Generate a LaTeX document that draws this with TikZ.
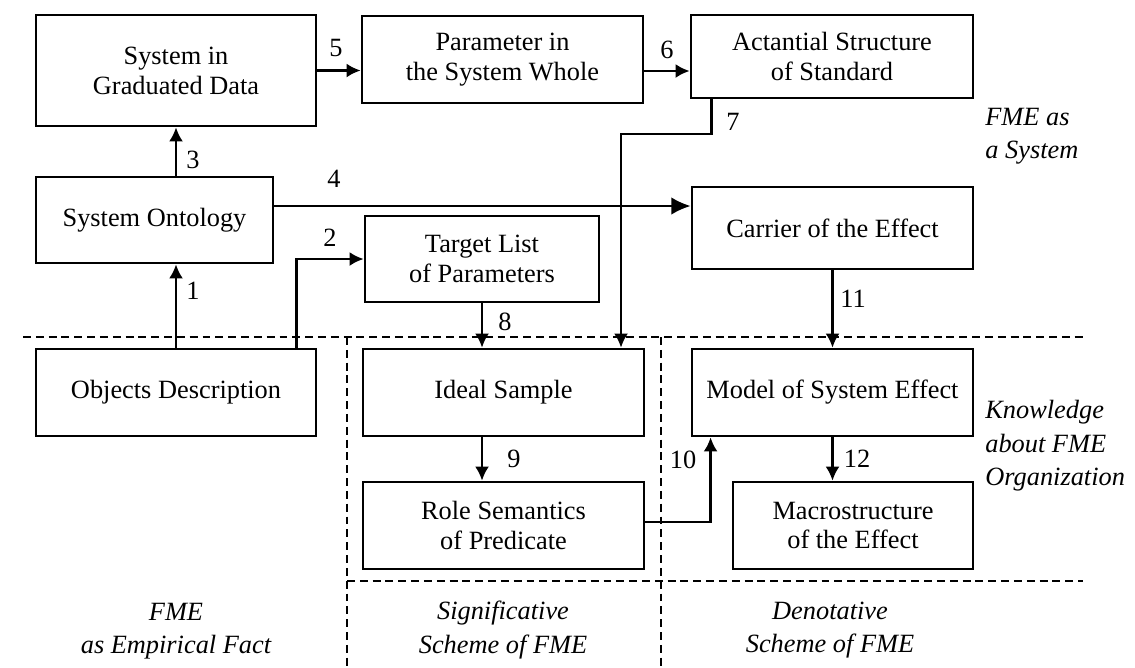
\documentclass[tikz,border=0pt]{standalone}
\usepackage{fontspec}
\setmainfont{Liberation Serif}
\usetikzlibrary{arrows.meta}
\begin{document}
\begin{tikzpicture}[x=0.02cm, y=-0.02cm,
  box/.style={draw, line width=1.6pt, align=center, inner sep=0pt, font=\fontsize{15}{17}\selectfont},
  flow/.style={line width=1.3pt, -{Latex[length=8pt,width=8pt]}},
  zone/.style={line width=0.8pt, dash pattern=on 4.5pt off 2.8pt},
  num/.style={inner sep=0pt, font=\fontsize{15}{17}\selectfont},
  note/.style={inner sep=0pt, align=left, font=\fontsize{15}{19}\selectfont\itshape}]
\useasboundingbox (0,0) rectangle (1135,667);
\foreach \nm/\cx/\cy/\w/\h/\txt in {
  sysdata/176/70.5/280/111/{System in\\Graduated Data},
  param/502.5/59.5/281/87/{Parameter in\\the System Whole},
  actant/832/56.5/282/83/{Actantial Structure\\of Standard},
  ontology/154.5/220/237/86/{System Ontology},
  target/482/259/234/86/{Target List\\of Parameters},
  carrier/832.5/228/281/82/{Carrier of the Effect},
  objects/176/392.5/280/87/{Objects Description},
  ideal/503.5/392.5/281/87/{Ideal Sample},
  model/832.5/392.5/281/87/{Model of System Effect},
  role/503.5/525.5/281/87/{Role Semantics\\of Predicate},
  macro/853/525.5/240/87/{Macrostructure\\of the Effect}}
  \node[box, minimum width=\w*0.02cm, minimum height=\h*0.02cm] (\nm) at (\cx,\cy) {\txt};
\coordinate (o4) at ([yshift=0.28cm]ontology.east);
\coordinate (p6) at ([yshift=-0.23cm]param.east);
\coordinate (k7) at (621,134);
\draw[flow] (objects.north) -- (objects.north |- ontology.south);
\draw[flow] ([xshift=-0.42cm]objects.north east) |- (target.west);
\draw[flow] (sysdata.south |- ontology.north) -- (sysdata.south);
\draw[line width=1.3pt, -{Latex[length=11pt,width=10pt]}] (o4) -- (o4 -| carrier.west);
\draw[flow] (sysdata.east) -- (sysdata.east -| param.west);
\draw[flow] (p6) -- (p6 -| actant.west);
\draw[flow] ([xshift=0.44cm]actant.south west) |- (k7) -- (k7 |- ideal.north);
\draw[flow] (target.south) -- (target.south |- ideal.north);
\draw[flow] (target.south |- ideal.south) -- (target.south |- role.north);
\draw[flow] ([yshift=0.07cm]role.east) -| ([xshift=0.4cm]model.south west);
\draw[flow] (carrier.south) -- (model.north);
\draw[flow] (model.south) -- (model.south |- macro.north);
\foreach \n/\x/\y in {1/193/291, 2/330/238, 3/193/160, 4/334/179, 5/336/48, 6/667/50,
  7/733/122, 8/505/322, 9/514/459, 10/683/460, 11/853/299, 12/857/459}
  \node[num] (n\n) at (\x,\y) {\n};
\draw[zone] (23,337) -- (1083,337);
\draw[zone] (347,581) -- (1083,581);
\draw[zone] (347,337) -- (347,667);
\draw[zone] (661,337) -- (661,667);
\node[note, anchor=west] (sysnote) at (985,136) {FME as\\a System};
\node[note, anchor=west] (orgnote) at (985,446) {Knowledge\\about FME\\Organization};
\node[note, align=center] (empnote) at (176,631) {FME\\as Empirical Fact};
\node[note, align=center] (signote) at (503,630) {Significative\\Scheme of FME};
\node[note, align=center] (dennote) at (830,630) {Denotative\\Scheme of FME};
\end{tikzpicture}
\end{document}
